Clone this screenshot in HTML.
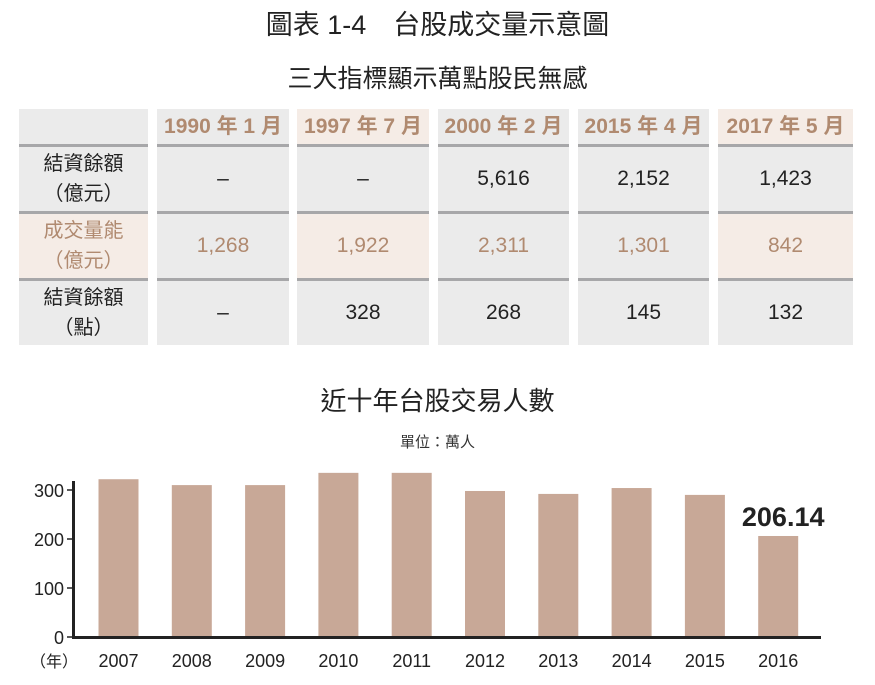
<!DOCTYPE html>
<html><head><meta charset="utf-8">
<style>
body{margin:0;width:875px;height:685px;background:#fff;font-family:"Liberation Sans","Noto Sans CJK TC",sans-serif;position:relative;overflow:hidden}
.a{position:absolute}
.c{position:absolute;display:flex;align-items:center;justify-content:center;text-align:center;background:#ebebeb;color:#222;font-size:21px;line-height:30px}
.b{background:#f5ece6}
.h{color:#b08a70;font-weight:bold;font-size:21px}
.br{color:#b08a70}
.sep{position:absolute;height:4px;background:#a7a7a9}
</style></head><body>
<div class="a" style="left:0;width:875px;top:3px;text-align:center;font-size:27px;color:#222">圖表 1-4　台股成交量示意圖</div>
<div class="a" style="left:0;width:875px;top:59px;text-align:center;font-size:25px;color:#222">三大指標顯示萬點股民無感</div>
<div id="tbl"></div>
<div class="a" style="left:0;width:875px;top:381px;text-align:center;font-size:26px;color:#222">近十年台股交易人數</div>
<div class="a" style="left:0;width:875px;top:431px;text-align:center;font-size:15px;color:#333">單位：萬人</div>
<svg id="chart" class="a" style="left:0;top:0" width="875" height="685"></svg>
<script>
const cols=[[19,148],[157,289],[297,429],[438,569],[578,709],[718,853]];
const rowsY=[[109,144],[147,211],[214,278],[281,345]];
const headers=["","1990 年 1 月","1997 年 7 月","2000 年 2 月","2015 年 4 月","2017 年 5 月"];
const tdata=[["結資餘額<br>（億元）","–","–","5,616","2,152","1,423"],["成交量能<br>（億元）","1,268","1,922","2,311","1,301","842"],["結資餘額<br>（點）","–","328","268","145","132"]];
const tb=document.getElementById('tbl');
for(let r=0;r<4;r++)for(let c=0;c<6;c++){
 const d=document.createElement('div');
 
 
 let cls='c';
 if(r===0){cls+=' h';if(c===2||c===5)cls+=' b';}
 else if(r===2){cls+=' br';if(c===0||c===2||c===5)cls+=' b';}
 d.className=cls;
 if(c===0&&r>0)d.style.fontSize='20px';
 d.style.left=cols[c][0]+'px';d.style.width=(cols[c][1]-cols[c][0])+'px';
 d.style.top=rowsY[r][0]+'px';d.style.height=(rowsY[r][1]-rowsY[r][0])+'px';
 d.innerHTML=r===0?headers[c]:tdata[r-1][c];
 tb.appendChild(d);
 if(r<3){const s=document.createElement('div');
 
 
 s.className='sep';s.style.left=cols[c][0]+'px';s.style.width=(cols[c][1]-cols[c][0])+'px';s.style.top=rowsY[r][1]+'px';tb.appendChild(s);}
}
</script>
<script>
const years=["2007","2008","2009","2010","2011","2012","2013","2014","2015","2016"];
const values=[322,310,310,335,335,298,292,304,290,206.14];
const yTicks=[0,100,200,300];
const NS='http://www.w3.org/2000/svg';
const svg=document.getElementById('chart');
const y0=637,k=0.49;
const yS=v=>y0-v*k;
const xS=i=>118.5+i*73.3;
function el(t,a,txt){const e=document.createElementNS(NS,t);for(const n in a)e.setAttribute(n,a[n]);if(txt!==undefined)e.textContent=txt;svg.appendChild(e);return e;}
values.forEach((v,i)=>{
 const b=el('rect',{x:xS(i)-20,y:yS(v),width:40,height:y0-yS(v),fill:'#c8a897'});
 
 
 const t=el('text',{x:xS(i),y:667,'text-anchor':'middle','font-size':18,fill:'#222','font-family':'Liberation Sans'},years[i]);
 
 
});
yTicks.forEach(v=>{
 el('line',{x1:67,x2:73,y1:yS(v),y2:yS(v),stroke:'#222','stroke-width':1.5});
 const t=el('text',{x:64,y:yS(v)+7,'text-anchor':'end','font-size':18,fill:'#222','font-family':'Liberation Sans'},v);
 
 
});
const ax=el('path',{d:'M73.5 481 V637.5 H821',stroke:'#222','stroke-width':3,fill:'none'});


const yl=el('text',{x:30,y:667,'font-size':16,fill:'#222','font-family':'Liberation Sans, Noto Sans CJK TC, sans-serif'},'（年）');


const lab=el('text',{x:xS(9)+5,y:yS(values[9])-10,'text-anchor':'middle','font-size':27,'font-weight':'bold',fill:'#222','font-family':'Liberation Sans'},values[9].toFixed(2));


</script>
</body></html>
